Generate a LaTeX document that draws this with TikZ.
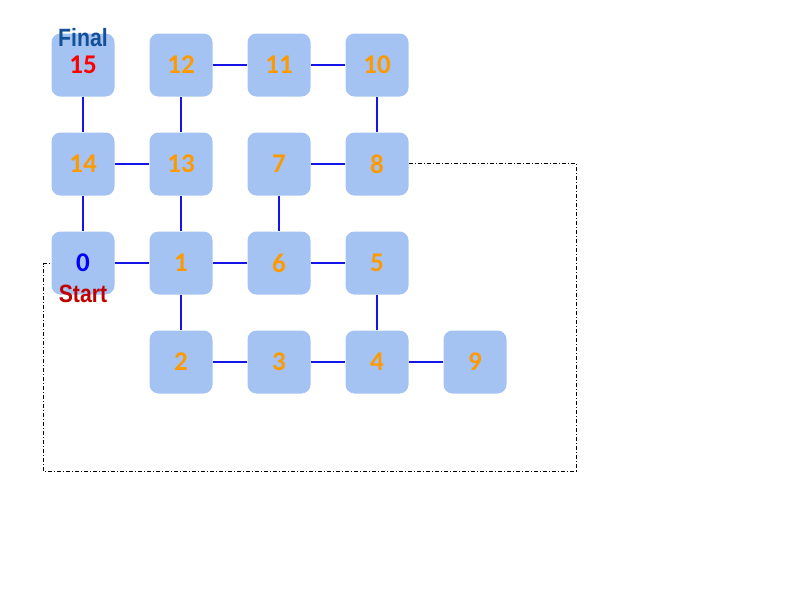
\documentclass[tikz,border=0pt]{standalone}
\usepackage{fontspec}
\setmainfont{Carlito}
\newfontfamily\labelfont{Liberation Sans}
\definecolor{boxfill}{RGB}{164,195,242}
\definecolor{numcol}{RGB}{255,153,0}
\definecolor{edgecol}{RGB}{20,20,230}
\definecolor{finalcol}{RGB}{20,80,150}
\definecolor{startcol}{RGB}{192,0,0}
\tikzset{
  cell/.style={rectangle, rounded corners=9pt, fill=boxfill, minimum width=63pt, minimum height=63pt, inner sep=0pt, text=numcol, font=\fontsize{27}{27}\selectfont\bfseries},
  link/.style={draw=edgecol, line width=1.8pt},
  route/.style={draw=black, line width=0.6pt, dash pattern=on 4pt off 2pt on 1pt off 2pt},
  tag/.style={font=\labelfont\bfseries\fontsize{25}{25}\selectfont, inner sep=0pt, xscale=0.85}
}
\begin{document}
\begin{tikzpicture}[x=1pt,y=-1pt]
\useasboundingbox (0,0) rectangle (800,600);
% route behind nodes
\coordinate (r1) at (576,163.5);
\coordinate (r2) at (576,471);
\coordinate (r3) at (43,471);
\coordinate (r4) at (43,263.5);
% nodes
\node[cell, text=red] (n15) at (83,65) {15};
\node[cell] (n12) at (181,65) {12};
\node[cell] (n11) at (279,65) {11};
\node[cell] (n10) at (377,65) {10};
\node[cell] (n14) at (83,164) {14};
\node[cell] (n13) at (181,164) {13};
\node[cell] (n7) at (279,164) {7};
\node[cell] (n8) at (377,164) {8};
\node[cell, text=blue] (n0) at (83,263) {0};
\node[cell] (n1) at (181,263) {1};
\node[cell] (n6) at (279,263) {6};
\node[cell] (n5) at (377,263) {5};
\node[cell] (n2) at (181,362) {2};
\node[cell] (n3) at (279,362) {3};
\node[cell] (n4) at (377,362) {4};
\node[cell] (n9) at (475,362) {9};
% links
\draw[link] (n15) -- (n14);
\draw[link] (n14) -- (n0);
\draw[link] (n14) -- (n13);
\draw[link] (n13) -- (n12);
\draw[link] (n12) -- (n11);
\draw[link] (n11) -- (n10);
\draw[link] (n10) -- (n8);
\draw[link] (n8) -- (n7);
\draw[link] (n7) -- (n6);
\draw[link] (n13) -- (n1);
\draw[link] (n0) -- (n1);
\draw[link] (n1) -- (n6);
\draw[link] (n6) -- (n5);
\draw[link] (n5) -- (n4);
\draw[link] (n1) -- (n2);
\draw[link] (n2) -- (n3);
\draw[link] (n3) -- (n4);
\draw[link] (n4) -- (n9);
\draw[route] (n8.east |- r1) -- (r1) -- (r2) -- (r3) -- (r4) -- (n0.west |- r4);
% labels
\node[tag, text=finalcol] (final) at (83,38) {Final};
\node[tag, text=startcol] (start) at (83,294) {Start};
\end{tikzpicture}
\end{document}
